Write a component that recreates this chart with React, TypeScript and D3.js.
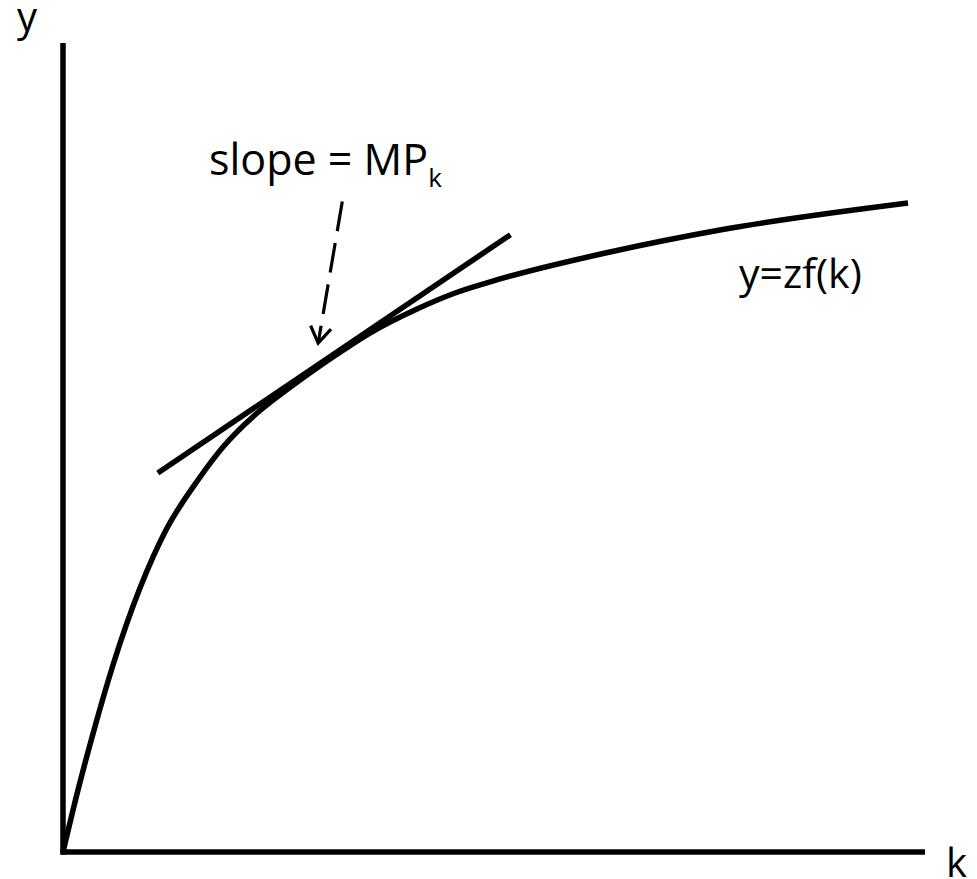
import React from "react";
import * as d3 from "d3";

// Production function y = z f(k): capital k vs output y
const kValues = [0, 0.174, 0.36, 0.58, 0.893, 1.195, 1.566, 1.856, 2.239, 2.483, 2.749, 3.097, 3.561, 4.107, 4.548, 5.07, 6.346, 7.622, 9.803];
const yValues = [0, 0.766, 1.508, 2.311, 3.263, 3.98, 4.598, 5.006, 5.414, 5.624, 5.834, 6.094, 6.415, 6.712, 6.91, 7.083, 7.417, 7.689, 8.022];

// Tangent line touching the curve (slope = marginal product of capital)
const tangentK = [1.1, 5.19];
const tangentY = [4.685, 7.63];

// Dashed pointer from the label to the tangency point
const arrowK = [3.24, 2.96];
const arrowY = [8.04, 6.29];

const W = 977;
const H = 879;

export default function App() {
  const x = d3.scaleLinear().domain([0, 10]).range([63, 925]);
  const y = d3.scaleLinear().domain([0, 10]).range([852, 43]);

  const pts: [number, number][] = kValues.map((k, i) => [k, yValues[i]]);
  const line = d3
    .line<[number, number]>()
    .x((d) => x(d[0]))
    .y((d) => y(d[1]))
    .curve(d3.curveMonotoneX);

  // arrowhead geometry from the scaled pointer endpoints
  const ax0 = x(arrowK[0]);
  const ay0 = y(arrowY[0]);
  const ax1 = x(arrowK[1]);
  const ay1 = y(arrowY[1]);
  const len = Math.hypot(ax1 - ax0, ay1 - ay0);
  const ux = (ax0 - ax1) / len;
  const uy = (ay0 - ay1) / len;
  const headLen = 19;
  const ang = (33 * Math.PI) / 180;
  const rot = (a: number): [number, number] => [
    ux * Math.cos(a) - uy * Math.sin(a),
    ux * Math.sin(a) + uy * Math.cos(a),
  ];
  const [r1x, r1y] = rot(ang);
  const [r2x, r2y] = rot(-ang);
  const headPath = `M${ax1 + r1x * headLen},${ay1 + r1y * headLen}L${ax1},${ay1}L${ax1 + r2x * headLen},${ay1 + r2y * headLen}`;

  const font = "'Open Sans', sans-serif";

  return (
    <svg
      width={W}
      height={H}
      style={{ position: "absolute", left: 0, top: 0, background: "#fff" }}
    >
      {/* axes */}
      <line x1={x(0)} y1={y(0) + 2.5} x2={x(0)} y2={y(10)} stroke="#000" strokeWidth={5.5} />
      <line x1={x(0) - 2.5} y1={y(0)} x2={x(10)} y2={y(0)} stroke="#000" strokeWidth={5.5} />

      {/* production function */}
      <path d={line(pts) ?? ""} fill="none" stroke="#000" strokeWidth={5.5} />

      {/* tangent */}
      <line
        x1={x(tangentK[0])}
        y1={y(tangentY[0])}
        x2={x(tangentK[1])}
        y2={y(tangentY[1])}
        stroke="#000"
        strokeWidth={5.5}
      />

      {/* dashed pointer */}
      <line
        x1={ax0}
        y1={ay0}
        x2={ax1 + ux * 3}
        y2={ay1 + uy * 3}
        stroke="#000"
        strokeWidth={3.2}
        strokeDasharray="30 12"
      />
      <path d={headPath} fill="none" stroke="#000" strokeWidth={3.2} />

      {/* labels */}
      <text x={17} y={31} fontFamily={font} fontSize={40} fill="#000">
        y
      </text>
      <text x={946} y={877} fontFamily={font} fontSize={40} fill="#000">
        k
      </text>
      <text x={209} y={175} fontFamily={font} fontSize={43} fill="#000">
        slope = MP
        <tspan fontSize={26} dy={12}>
          k
        </tspan>
      </text>
      <text x={739} y={288} fontFamily={font} fontSize={41} fill="#000">
        y=zf(k)
      </text>
    </svg>
  );
}
